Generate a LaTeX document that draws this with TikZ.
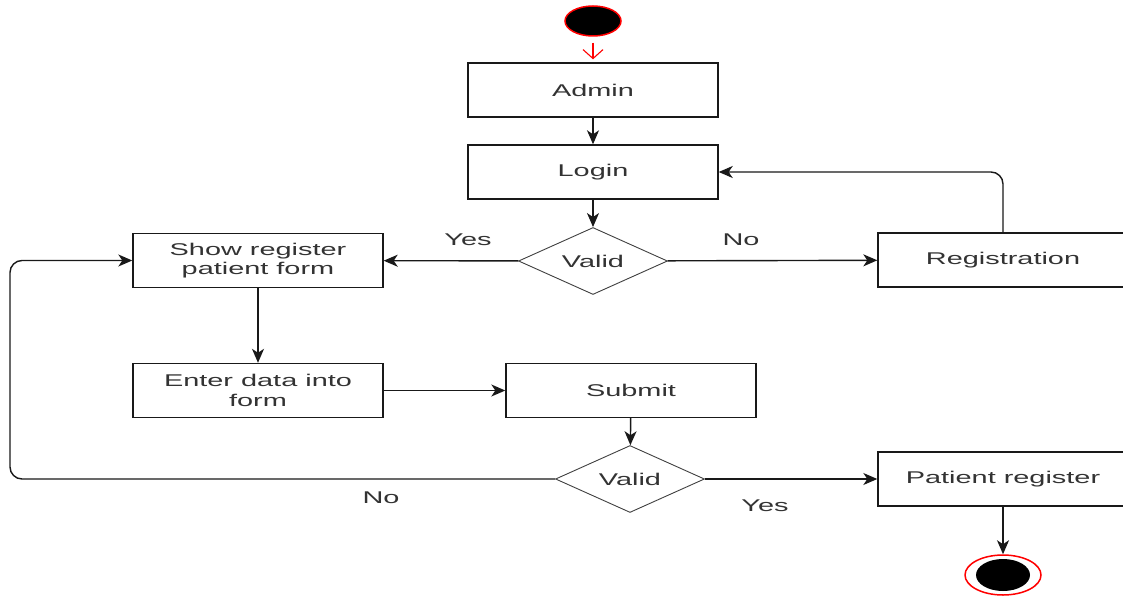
\documentclass[tikz,border=0pt]{standalone}
\usepackage{fontspec}
\setmainfont{Liberation Sans}[FakeStretch=1.7]
\usetikzlibrary{shapes.geometric,arrows.meta}
\begin{document}
\begin{tikzpicture}[x=1pt,y=-1pt,
  txt/.style={font=\fontsize{17}{19.5}\selectfont, text=black!80},
  box/.style={txt, draw=black!90, line width=1.4pt, minimum width=250pt, minimum height=54pt, inner sep=0pt, align=center},
  dia/.style={txt, draw=black!75, line width=0.9pt, shape=diamond, aspect=2.22, minimum width=149pt, minimum height=67pt, inner sep=0pt},
  lbl/.style={txt},
  flow/.style={line width=1.4pt, draw=black!90, -{Stealth[length=14pt,width=12pt,inset=4pt]}},
  startarr/.style={line width=1.1pt, draw=red, -{Straight Barb[length=9pt,width=20pt]}}
]
\useasboundingbox (0,0) rectangle (1123,596);
\clip (0,0) rectangle (1123,596);
\fill[white] (0,0) rectangle (1123,596);

\node[ellipse, fill=black, draw=red, line width=1.5pt, minimum width=56pt, minimum height=30pt, inner sep=0pt] (start) at (593,21) {};
\node[box] (admin) at (593,90) {Admin};
\node[box] (login) at (593,172) {Login};
\node[dia] (valid1) at (593,261) {Valid};
\node[box] (show) at (258,260.5) {Show register\\patient form};
\node[box] (reg) at (1003,260) {Registration};
\node[box] (enter) at (258,390.5) {Enter data into\\form};
\node[box] (submit) at (631,390.5) {Submit};
\node[dia] (valid2) at (630,479) {Valid};
\node[box] (patient) at (1003,479) {Patient register};
\node[ellipse, draw=red, fill=white, line width=1.5pt, minimum width=76pt, minimum height=40pt, inner sep=0pt] (end) at (1003,575) {};
\node[ellipse, fill=black, minimum width=54pt, minimum height=32pt, inner sep=0pt] (endin) at (1003,575) {};

\node[lbl] (yes1) at (468,240) {Yes};
\node[lbl] (no1) at (741,240) {No};
\node[lbl] (no2) at (381,498) {No};
\node[lbl] (yes2) at (765,506) {Yes};

\coordinate (loopL) at (10,479);

\draw[startarr, shorten <=6pt, shorten >=3pt] (start) -- (admin);
\draw[flow] (admin) -- (login);
\draw[flow] (login) -- (valid1);
\draw[flow] (valid1) -- (show);
\draw[flow] (valid1) -- (reg);
\draw[flow, rounded corners=12pt] (reg.north) |- (login.east);
\draw[flow] (show) -- (enter);
\draw[flow] (enter) -- (submit);
\draw[flow] (submit) -- (valid2);
\draw[flow, rounded corners=12pt] (valid2.west) -- (loopL) |- (show.west);
\draw[flow] (valid2) -- (patient);
\draw[flow] (patient) -- (end);
\end{tikzpicture}
\end{document}
